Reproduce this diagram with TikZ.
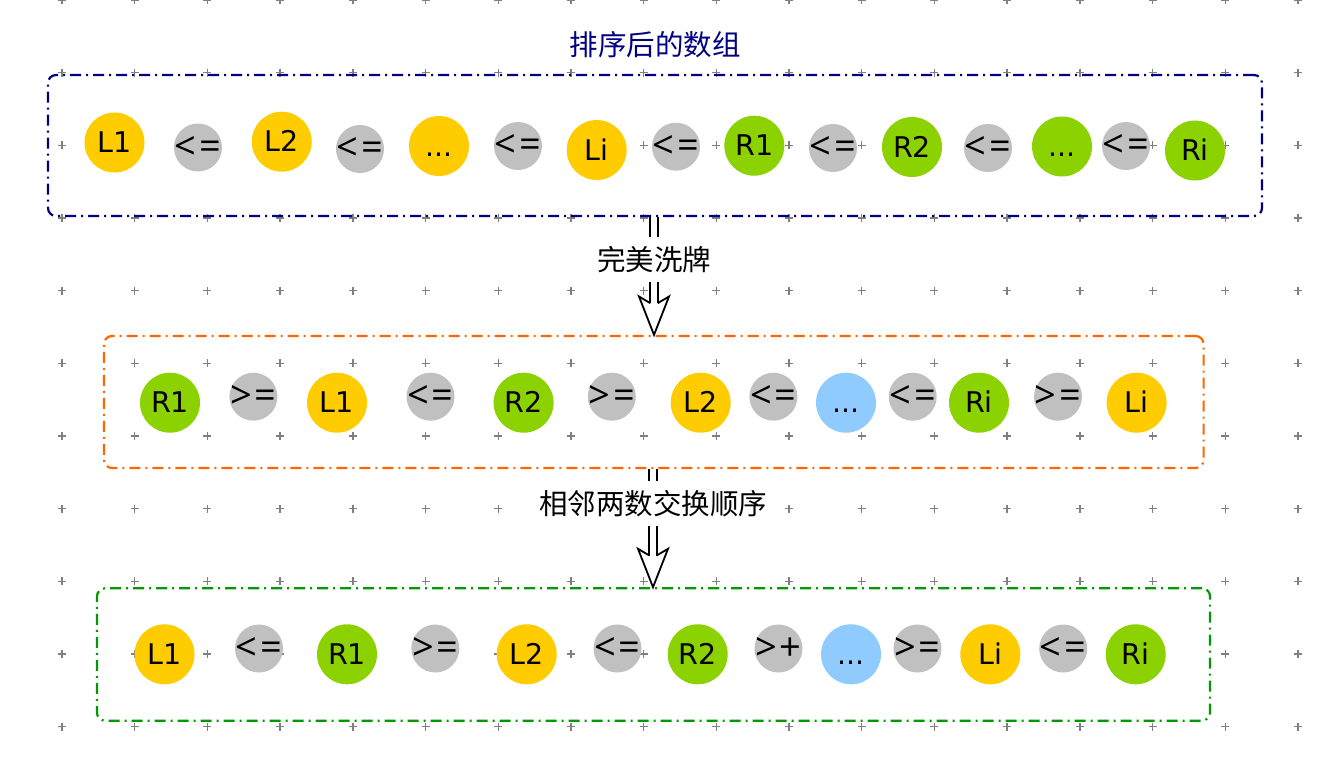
\documentclass[tikz,border=0pt]{standalone}
\usepackage{fontspec}
\newfontfamily\cjk{Noto Sans CJK SC}
\newfontfamily\latf{DejaVu Sans}
\newfontfamily\opf{Open Sans}
\usetikzlibrary{calc}
\definecolor{cy}{HTML}{FFCC00}
\definecolor{cg}{HTML}{8CD100}
\definecolor{cb}{HTML}{8FCBFF}
\definecolor{cgray}{HTML}{C0C0C0}
\definecolor{cnavy}{HTML}{000080}
\definecolor{corange}{HTML}{FF6600}
\definecolor{cgreen}{HTML}{009900}
\newcommand{\opsym}[2]{\makebox[0pt]{#1\kern3pt#2}}
\begin{document}
\begin{tikzpicture}[x=1pt,y=-1pt,
  gridmark/.style={draw=black!50, line width=1.4pt},
  frame/.style={draw, line width=2.2pt, dash pattern=on 11pt off 5pt on 2pt off 5pt, rounded corners=8pt, inner sep=0pt},
  ball/.style={circle, inner sep=0pt, minimum size=60pt, text height=20.4pt, text depth=0pt, font=\latf\fontsize{28.5}{32}\selectfont, text=black},
  yb/.style={ball, fill=cy},
  gb/.style={ball, fill=cg},
  bb/.style={ball, fill=cb},
  op/.style={circle, inner sep=0pt, minimum size=48pt, fill=cgray, font=\opf\fontsize{38}{40}\selectfont, text=black},
  lbl/.style={fill=white, inner xsep=3pt, inner ysep=0pt, font=\cjk\fontsize{28.5}{32}\selectfont},
  shaft/.style={draw=black, line width=1.8pt, double=white, double distance=5.5pt},
  headline/.style={draw=black, line width=1.8pt, line join=miter},
]
\useasboundingbox (0,0) rectangle (1324,776);
% background grid marks
\begin{scope}
\clip (0,0) rectangle (1324,776);
\foreach \i in {0,...,17}{\foreach \j in {0,...,10}{
  \draw[gridmark] ({62+72.7*\i-4},{72.65*\j}) -- ++(8,0) ({62+72.7*\i},{72.65*\j-4}) -- ++(0,8);}}
\end{scope}

% title and frames
\node[font=\cjk\fontsize{28.5}{32}\selectfont, text=cnavy] (title) at (655,44.5) {排序后的数组};
\node[frame, draw=cnavy, minimum width=1214pt, minimum height=141pt] (box1) at (655,145.5) {};
\node[frame, draw=corange, minimum width=1099.6pt, minimum height=132pt] (box2) at (653.8,402) {};
\node[frame, draw=cgreen, minimum width=1113pt, minimum height=132.4pt] (box3) at (653.5,654.5) {};

% top row
\node[yb] (t1) at (114.5,142.5) {L1};
\node[op] (t2) at (198,147.5) {\opsym<=};
\node[yb] (t3) at (281.7,141.7) {L2};
\node[op] (t4) at (360,149) {\opsym<=};
\node[yb] (t5) at (439,146) {...};
\node[op] (t6) at (518,146) {\opsym<=};
\node[yb] (t7) at (596.7,150) {Li};
\node[op] (t8) at (676,146.7) {\opsym<=};
\node[gb] (t9) at (754.3,145.7) {R1};
\node[op] (t10) at (833,148) {\opsym<=};
\node[gb] (t11) at (912,147) {R2};
\node[op] (t12) at (988,148) {\opsym<=};
\node[gb] (t13) at (1062,146.5) {...};
\node[op] (t14) at (1126,146) {\opsym<=};
\node[gb] (t15) at (1195,150.5) {Ri};

% middle row
\node[gb] (m1) at (170,402.7) {R1};
\node[op] (m2) at (253.4,396.7) {\opsym>=};
\node[yb] (m3) at (337,402.7) {L1};
\node[op] (m4) at (430.5,396.7) {\opsym<=};
\node[gb] (m5) at (523.6,402.7) {R2};
\node[op] (m6) at (611.8,396.7) {\opsym>=};
\node[yb] (m7) at (700.7,402.7) {L2};
\node[op] (m8) at (773.4,396.7) {\opsym<=};
\node[bb] (m9) at (846,402.7) {...};
\node[op] (m10) at (912.7,396.7) {\opsym<=};
\node[gb] (m11) at (979,402.7) {Ri};
\node[op] (m12) at (1058,396.7) {\opsym>=};
\node[yb] (m13) at (1136.6,402.7) {Li};

% bottom row
\node[yb] (b1) at (164.5,654.3) {L1};
\node[op] (b2) at (259,648.5) {\opsym<=};
\node[gb] (b3) at (347,654.3) {R1};
\node[op] (b4) at (435.3,648.5) {\opsym>=};
\node[yb] (b5) at (526.7,654.3) {L2};
\node[op] (b6) at (617.5,648.5) {\opsym<=};
\node[gb] (b7) at (697.7,654.3) {R2};
\node[op] (b8) at (778.5,648.5) {\opsym>+};
\node[bb] (b9) at (851,654.3) {...};
\node[op] (b10) at (917.5,648.5) {\opsym>=};
\node[yb] (b11) at (990.3,654.3) {Li};
\node[op] (b12) at (1063.2,648.5) {\opsym<=};
\node[gb] (b13) at (1135.7,654.3) {Ri};

% arrow 1
\node[lbl, minimum height=44pt] (lab1) at (654,259.5) {完美洗牌};
\coordinate (tip1) at (lab1 |- box2.north);
\draw[shaft] (box1.south -| lab1) -- (lab1.north);
\fill[white] (tip1) -- ++(-15,-38.4) -- ++(11.35,6.7) -- ++(7.3,0) -- ++(11.35,-6.7) -- cycle;
\draw[shaft] (lab1.south) -- ($(tip1)+(0,-31.7)$);
\draw[headline] ($(tip1)+(-3.65,-31.7)$) -- ($(tip1)+(-15,-38.4)$) -- (tip1) -- ($(tip1)+(15,-38.4)$) -- ($(tip1)+(3.65,-31.7)$);

% arrow 2
\node[lbl, minimum height=45pt] (lab2) at (653,503.5) {相邻两数交换顺序};
\coordinate (tip2) at (lab2 |- box3.north);
\draw[shaft] (box2.south -| lab2) -- (lab2.north);
\fill[white] (tip2) -- ++(-15,-38.4) -- ++(11.35,6.7) -- ++(7.3,0) -- ++(11.35,-6.7) -- cycle;
\draw[shaft] (lab2.south) -- ($(tip2)+(0,-31.7)$);
\draw[headline] ($(tip2)+(-3.65,-31.7)$) -- ($(tip2)+(-15,-38.4)$) -- (tip2) -- ($(tip2)+(15,-38.4)$) -- ($(tip2)+(3.65,-31.7)$);
\end{tikzpicture}
\end{document}
